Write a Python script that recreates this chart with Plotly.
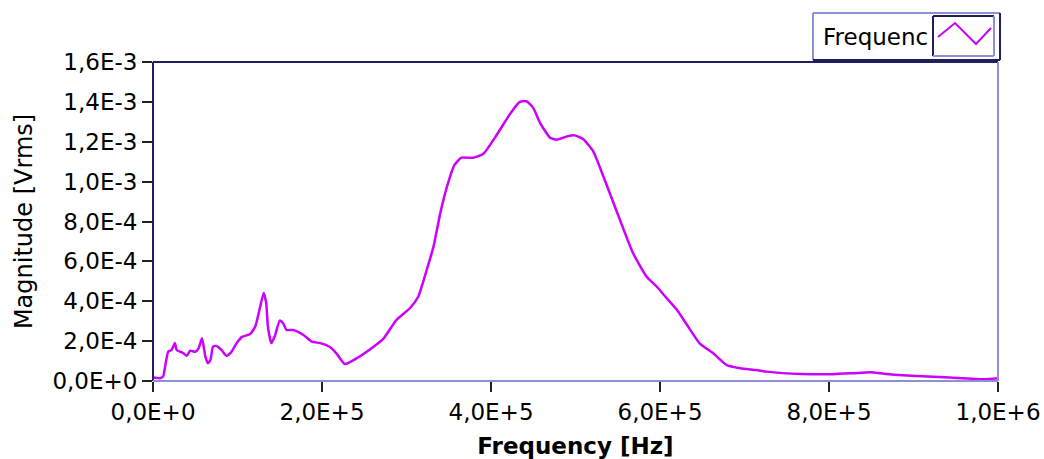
import plotly.graph_objects as go

# ---- data ----
freq_hz = [0, 8.3e3, 1.2e4, 1.4e4, 1.8e4, 2.2e4, 2.6e4, 2.8e4, 3.2e4, 3.6e4,
           4.0e4, 4.4e4, 5.0e4, 5.4e4, 5.8e4, 6.2e4, 6.5e4, 6.8e4, 7.1e4, 7.5e4,
           8.1e4, 8.7e4, 9.3e4, 9.9e4, 1.05e5, 1.15e5, 1.21e5, 1.26e5, 1.31e5, 1.34e5,
           1.36e5, 1.40e5, 1.44e5, 1.50e5, 1.54e5, 1.58e5, 1.66e5, 1.78e5, 1.88e5, 1.98e5,
           2.09e5, 2.17e5, 2.27e5, 2.41e5, 2.61e5, 2.73e5, 2.88e5, 3.04e5, 3.14e5, 3.24e5,
           3.32e5, 3.40e5, 3.48e5, 3.57e5, 3.65e5, 3.79e5, 3.91e5, 4.07e5, 4.22e5, 4.34e5,
           4.42e5, 4.50e5, 4.58e5, 4.70e5, 4.78e5, 4.90e5, 4.99e5, 5.09e5, 5.21e5, 5.33e5,
           5.45e5, 5.57e5, 5.68e5, 5.84e5, 5.96e5, 6.08e5, 6.20e5, 6.32e5, 6.47e5, 6.63e5,
           6.79e5, 6.95e5, 7.14e5, 7.26e5, 7.67e5, 8.05e5, 8.29e5, 8.49e5, 8.68e5, 9.04e5,
           9.43e5, 9.83e5, 1.0e6]

magnitude_vrms = [1.7e-5, 1.4e-5, 2.2e-5, 6.4e-5, 1.47e-4, 1.56e-4, 1.90e-4, 1.56e-4, 1.47e-4, 1.39e-4,
                  1.26e-4, 1.52e-4, 1.47e-4, 1.64e-4, 2.14e-4, 1.22e-4, 8.9e-5, 1.05e-4, 1.72e-4, 1.76e-4,
                  1.56e-4, 1.26e-4, 1.47e-4, 1.90e-4, 2.20e-4, 2.36e-4, 2.73e-4, 3.57e-4, 4.42e-4, 3.90e-4,
                  2.73e-4, 1.90e-4, 2.23e-4, 3.03e-4, 2.90e-4, 2.56e-4, 2.56e-4, 2.31e-4, 1.97e-4, 1.90e-4,
                  1.72e-4, 1.39e-4, 8.5e-5, 1.14e-4, 1.72e-4, 2.14e-4, 3.06e-4, 3.65e-4, 4.24e-4, 5.58e-4,
                  6.75e-4, 8.42e-4, 9.76e-4, 1.085e-3, 1.12e-3, 1.12e-3, 1.14e-3, 1.236e-3, 1.336e-3, 1.40e-3,
                  1.403e-3, 1.37e-3, 1.295e-3, 1.22e-3, 1.21e-3, 1.227e-3, 1.232e-3, 1.214e-3, 1.152e-3, 1.026e-3,
                  8.93e-4, 7.59e-4, 6.42e-4, 5.24e-4, 4.74e-4, 4.15e-4, 3.57e-4, 2.81e-4, 1.89e-4, 1.39e-4,
                  8.0e-5, 6.4e-5, 5.5e-5, 4.7e-5, 3.5e-5, 3.4e-5, 3.9e-5, 4.4e-5, 3.5e-5, 2.5e-5,
                  1.7e-5, 8.5e-6, 1.4e-5]

x_tick_vals = [0, 2e5, 4e5, 6e5, 8e5, 1e6]
x_tick_text = ["0,0E+0", "2,0E+5", "4,0E+5", "6,0E+5", "8,0E+5", "1,0E+6"]
y_tick_vals = [0, 2e-4, 4e-4, 6e-4, 8e-4, 1e-3, 1.2e-3, 1.4e-3, 1.6e-3]
y_tick_text = ["0,0E+0", "2,0E-4", "4,0E-4", "6,0E-4", "8,0E-4", "1,0E-3", "1,2E-3", "1,4E-3", "1,6E-3"]

legend_label = "Frequenc"
x_title = "Frequency [Hz]"
y_title = "Magnitude [Vrms]"

# ---- layout geometry / styling ----
W, H = 1044, 459
L, R, T, B = 153, 998, 62, 381
LINE_COLOR = "#cc00ff"
DARK = "#1f1f5f"
LIGHT = "#8f8fd6"
FONT = "DejaVu Sans"


def px(xp):
    return (xp - L) / (R - L)


def py(yp):
    return (B - yp) / (B - T)


fig = go.Figure()
fig.add_trace(go.Scatter(x=freq_hz, y=magnitude_vrms, mode="lines",
                         line=dict(color=LINE_COLOR, width=2.5, shape="spline", smoothing=0.5),
                         name="Frequency", showlegend=False))

shapes = []
# plot area frame: dark left/top, light right/bottom
shapes.append(dict(type="line", xref="paper", yref="paper", x0=0, x1=0, y0=0, y1=1,
                   line=dict(color=DARK, width=2)))
shapes.append(dict(type="line", xref="paper", yref="paper", x0=0, x1=1, y0=1, y1=1,
                   line=dict(color=DARK, width=2)))
shapes.append(dict(type="line", xref="paper", yref="paper", x0=1, x1=1, y0=0, y1=1,
                   line=dict(color=LIGHT, width=2)))
shapes.append(dict(type="line", xref="paper", yref="paper", x0=0, x1=1, y0=0, y1=0,
                   line=dict(color=LIGHT, width=2)))

# legend box
lx0, lx1, ly0, ly1 = 813, 1000, 13, 60
shapes.append(dict(type="rect", xref="paper", yref="paper", x0=px(lx0), x1=px(lx1),
                   y0=py(ly1), y1=py(ly0), fillcolor="white", line=dict(width=0)))
shapes.append(dict(type="line", xref="paper", yref="paper", x0=px(lx0), x1=px(lx0),
                   y0=py(ly1), y1=py(ly0), line=dict(color=LIGHT, width=2)))
shapes.append(dict(type="line", xref="paper", yref="paper", x0=px(lx0), x1=px(lx1),
                   y0=py(ly0), y1=py(ly0), line=dict(color=LIGHT, width=2)))
shapes.append(dict(type="line", xref="paper", yref="paper", x0=px(lx1), x1=px(lx1),
                   y0=py(ly1), y1=py(ly0), line=dict(color=DARK, width=2)))
shapes.append(dict(type="line", xref="paper", yref="paper", x0=px(lx0), x1=px(lx1),
                   y0=py(ly1), y1=py(ly1), line=dict(color=DARK, width=2)))

# legend symbol box
sx0, sx1, sy0, sy1 = 933, 994, 16, 56
shapes.append(dict(type="line", xref="paper", yref="paper", x0=px(sx0), x1=px(sx0),
                   y0=py(sy1), y1=py(sy0), line=dict(color=DARK, width=2)))
shapes.append(dict(type="line", xref="paper", yref="paper", x0=px(sx0), x1=px(sx1),
                   y0=py(sy0), y1=py(sy0), line=dict(color=DARK, width=2)))
shapes.append(dict(type="line", xref="paper", yref="paper", x0=px(sx1), x1=px(sx1),
                   y0=py(sy1), y1=py(sy0), line=dict(color=LIGHT, width=2)))
shapes.append(dict(type="line", xref="paper", yref="paper", x0=px(sx0), x1=px(sx1),
                   y0=py(sy1), y1=py(sy1), line=dict(color=LIGHT, width=2)))
zig = [(938, 37), (955, 23), (976, 44), (991, 28)]
path = "M " + " L ".join(f"{px(a):.5f},{py(b):.5f}" for a, b in zig)
shapes.append(dict(type="path", xref="paper", yref="paper", path=path,
                   line=dict(color=LINE_COLOR, width=2)))

annotations = [
    dict(text=legend_label, xref="paper", yref="paper", x=px(821), y=py(37),
         xanchor="left", yanchor="middle", showarrow=False,
         font=dict(family=FONT, size=23, color="black")),
]

fig.update_layout(
    width=W, height=H,
    margin=dict(l=L, r=W - R, t=T, b=H - B, pad=0, autoexpand=False),
    paper_bgcolor="white", plot_bgcolor="white",
    font=dict(family=FONT, color="black"),
    shapes=shapes, annotations=annotations,
    showlegend=False,
    xaxis=dict(range=[0, 1e6], tickvals=x_tick_vals, ticktext=x_tick_text,
               ticks="outside", ticklen=10, tickwidth=2, tickcolor="#222222",
               showgrid=False, zeroline=False, showline=False, automargin=False,
               tickfont=dict(family=FONT, size=23, color="black"),
               title=dict(text="<b>" + x_title + "</b>",
                          font=dict(family=FONT, size=23, color="black"),
                          standoff=15)),
    yaxis=dict(range=[0, 1.6e-3], tickvals=y_tick_vals, ticktext=y_tick_text,
               ticks="outside", ticklen=10, tickwidth=2, tickcolor="#222222",
               showgrid=False, zeroline=False, showline=False, automargin=False,
               tickfont=dict(family=FONT, size=23, color="black"),
               title=dict(text=y_title, font=dict(family=FONT, size=24, color="black"),
                          standoff=12)),
)

fig.write_html("out.html", config={"displayModeBar": False},
               post_script="document.body.style.margin='0px';document.body.style.overflow='hidden';")
